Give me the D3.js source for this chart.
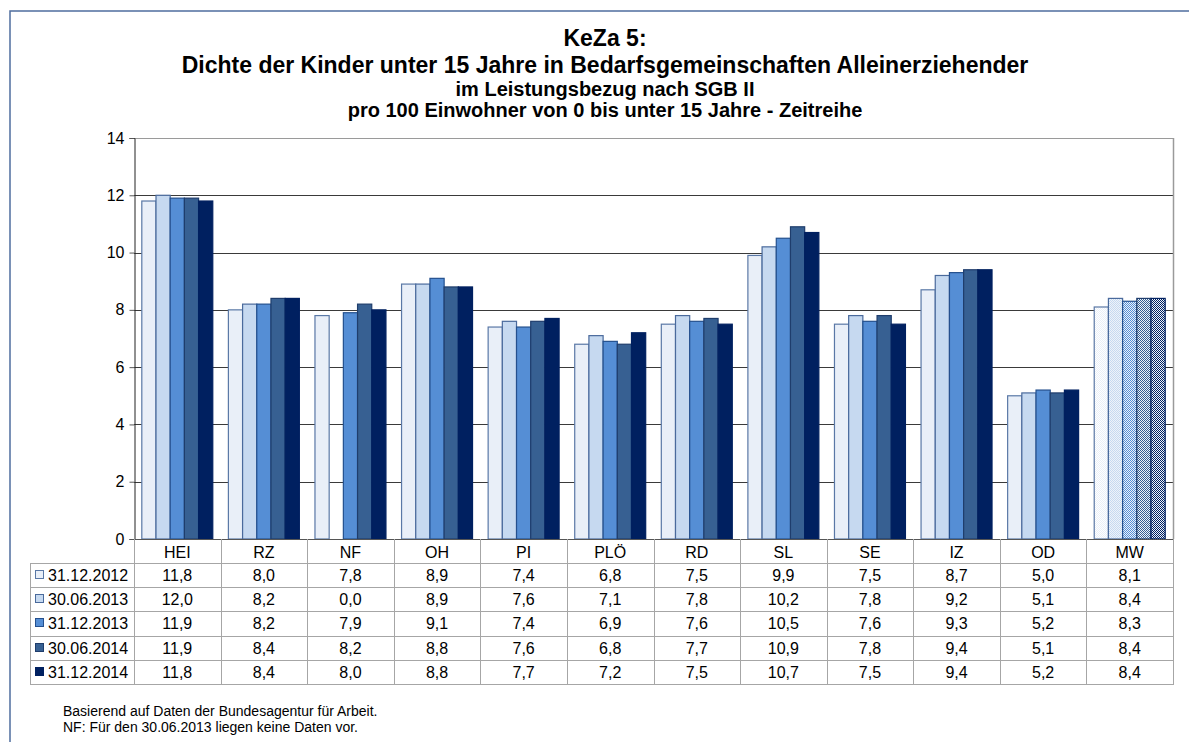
<!DOCTYPE html>
<html lang="de">
<head>
<meta charset="utf-8">
<title>KeZa 5</title>
<style>
  body { margin: 0; background: #fff; }
  svg { display: block; font-family: "Liberation Sans", Arial, sans-serif; }
</style>
</head>
<body>
<div id="chart"></div>
<script src="https://cdn.jsdelivr.net/npm/d3@7"></script>
<script>
// Data
var categories = ["HEI", "RZ", "NF", "OH", "PI", "PLÖ", "RD", "SL", "SE", "IZ", "OD", "MW"];
var seriesNames = ["31.12.2012", "30.06.2013", "31.12.2013", "30.06.2014", "31.12.2014"];
var values2012_12 = [11.8, 8.0, 7.8, 8.9, 7.4, 6.8, 7.5, 9.9, 7.5, 8.7, 5.0, 8.1];
var values2013_06 = [12.0, 8.2, 0.0, 8.9, 7.6, 7.1, 7.8, 10.2, 7.8, 9.2, 5.1, 8.4];
var values2013_12 = [11.9, 8.2, 7.9, 9.1, 7.4, 6.9, 7.6, 10.5, 7.6, 9.3, 5.2, 8.3];
var values2014_06 = [11.9, 8.4, 8.2, 8.8, 7.6, 6.8, 7.7, 10.9, 7.8, 9.4, 5.1, 8.4];
var values2014_12 = [11.8, 8.4, 8.0, 8.8, 7.7, 7.2, 7.5, 10.7, 7.5, 9.4, 5.2, 8.4];
var yTicks = [0, 2, 4, 6, 8, 10, 12, 14];
var titleLines = ["KeZa 5:",
    "Dichte der Kinder unter 15 Jahre in Bedarfsgemeinschaften Alleinerziehender",
    "im Leistungsbezug nach SGB II",
    "pro 100 Einwohner von 0 bis unter 15 Jahre - Zeitreihe"];
var notes = ["Basierend auf Daten der Bundesagentur für Arbeit.",
    "NF: Für den 30.06.2013 liegen keine Daten vor."];

var seriesValues = [values2012_12, values2013_06, values2013_12, values2014_06, values2014_12];
var fills = ["#e9eff8", "#c6d9f0", "#558ed5", "#376092", "#002060"];
var strokes = ["#5a78a6", "#4a6a9c", "#24508e", "#1f3d6c", "#002060"];

var W = 1189, H = 742;
var plot = {left: 134, right: 1173, top: 138, bottom: 539};
var tableLeft = 30, rowH = 24.2, headH = 24;

var svg = d3.select("#chart").append("svg")
    .attr("width", W)
    .attr("height", H);

// Checker patterns for the MW (average) column
var defs = svg.append("defs");
fills.forEach(function(c, i) {
    var p = defs.append("pattern")
        .attr("id", "pat" + i)
        .attr("width", 2).attr("height", 2)
        .attr("patternUnits", "userSpaceOnUse");
    p.append("rect").attr("width", 2).attr("height", 2).attr("fill", i == 0 ? "#ffffff" : "#eef3fa");
    p.append("rect").attr("x", 0).attr("y", 0).attr("width", 1).attr("height", 1).attr("fill", c);
    p.append("rect").attr("x", 1).attr("y", 1).attr("width", 1).attr("height", 1).attr("fill", c);
});

// Outer frame
svg.append("rect")
    .attr("x", 10).attr("y", 11)
    .attr("width", W + 20).attr("height", H + 20)
    .attr("fill", "none")
    .attr("stroke", "#4f6d9e")
    .attr("stroke-width", 1.5);

// Title
var titleSizes = [23, 23, 20, 20];
var titleY = [46, 73, 96, 117];
titleLines.forEach(function(t, i) {
    svg.append("text")
        .attr("x", 605)
        .attr("y", titleY[i])
        .attr("text-anchor", "middle")
        .style("font-size", titleSizes[i] + "px")
        .style("font-weight", "bold")
        .text(t);
});

// Scales
var x = d3.scaleBand().domain(categories).range([plot.left, plot.right]).padding(0);
var xs = d3.scaleBand().domain(d3.range(seriesNames.length))
    .range([0, x.bandwidth()])
    .paddingInner(0)
    .paddingOuter(0.55);
var y = d3.scaleLinear().domain([0, 14]).range([plot.bottom, plot.top]);

// Gridlines
svg.append("g")
    .selectAll("line")
    .data(yTicks.filter(function(d) { return d > 0; }))
    .enter().append("line")
    .attr("x1", plot.left).attr("x2", plot.right)
    .attr("y1", function(d) { return Math.round(y(d)) + 0.5; })
    .attr("y2", function(d) { return Math.round(y(d)) + 0.5; })
    .attr("stroke", function(d) { return d == 14 ? "#9a9a9a" : "#3a3a3a"; })
    .attr("stroke-width", 1);

// Right border of the plot
svg.append("line")
    .attr("x1", plot.right + 0.5).attr("x2", plot.right + 0.5)
    .attr("y1", plot.top).attr("y2", plot.bottom)
    .attr("stroke", "#9a9a9a").attr("stroke-width", 1.5);

// Bars
var groups = svg.append("g")
    .selectAll("g")
    .data(seriesValues)
    .enter().append("g");

groups.selectAll("rect")
    .data(function(d, s) {
        return d.map(function(v, i) { return {s: s, c: categories[i], v: v}; });
    })
    .enter().append("rect")
    .filter(function(d) { return d.v > 0; })
    .attr("x", function(d) { return x(d.c) + xs(d.s); })
    .attr("y", function(d) { return y(d.v); })
    .attr("width", xs.bandwidth())
    .attr("height", function(d) { return y(0) - y(d.v); })
    .attr("fill", function(d) { return d.c == "MW" ? "url(#pat" + d.s + ")" : fills[d.s]; })
    .attr("stroke", function(d) { return strokes[d.s]; })
    .attr("stroke-width", 1.2);

// Y axis
var yAxis = d3.axisLeft(y).tickValues(yTicks).tickSize(5).tickPadding(5).tickFormat(d3.format("d"));
var gy = svg.append("g")
    .attr("transform", "translate(" + (plot.left + 0.5) + ",0)")
    .call(yAxis);
gy.select(".domain").attr("stroke", "#222");
gy.selectAll(".tick line").attr("stroke", "#555");
gy.selectAll("text").style("font-size", "16px").attr("fill", "#000");

// X axis line
svg.append("line")
    .attr("x1", plot.left).attr("x2", plot.right + 1)
    .attr("y1", plot.bottom + 0.5).attr("y2", plot.bottom + 0.5)
    .attr("stroke", "#555");

// Data table
var fmt = function(v) { return v.toFixed(1).replace(".", ","); };
var tableBottom = plot.bottom + headH + rowH * seriesNames.length;
var table = svg.append("g").style("font-size", "16px");

// vertical lines between categories
table.selectAll("line.v")
    .data(categories.map(function(c) { return x(c); }).concat([plot.right]))
    .enter().append("line")
    .attr("x1", function(d) { return Math.round(d) + 0.5; })
    .attr("x2", function(d) { return Math.round(d) + 0.5; })
    .attr("y1", plot.bottom)
    .attr("y2", tableBottom)
    .attr("stroke", "#a6a6a6");

// horizontal lines
table.selectAll("line.h")
    .data(d3.range(seriesNames.length + 1))
    .enter().append("line")
    .attr("x1", tableLeft)
    .attr("x2", plot.right + 1)
    .attr("y1", function(i) { return Math.round(plot.bottom + headH + rowH * i) + 0.5; })
    .attr("y2", function(i) { return Math.round(plot.bottom + headH + rowH * i) + 0.5; })
    .attr("stroke", "#a6a6a6");

table.append("line")
    .attr("x1", tableLeft + 0.5).attr("x2", tableLeft + 0.5)
    .attr("y1", plot.bottom + headH).attr("y2", tableBottom)
    .attr("stroke", "#a6a6a6");

// category headers
table.selectAll("text.cat")
    .data(categories)
    .enter().append("text")
    .attr("x", function(c) { return x(c) + x.bandwidth() / 2; })
    .attr("y", plot.bottom + 19)
    .attr("text-anchor", "middle")
    .text(function(c) { return c; });

// rows
seriesNames.forEach(function(name, s) {
    var rowY = plot.bottom + headH + rowH * s;
    table.append("rect")
        .attr("x", 35.5).attr("y", Math.round(rowY) + 7.5)
        .attr("width", 8).attr("height", 8)
        .attr("fill", fills[s])
        .attr("stroke", strokes[s]);
    table.append("text")
        .attr("x", 48)
        .attr("y", rowY + 18)
        .text(name);
    table.selectAll("text.r" + s)
        .data(seriesValues[s])
        .enter().append("text")
        .attr("x", function(v, i) { return x(categories[i]) + x.bandwidth() / 2; })
        .attr("y", rowY + 18)
        .attr("text-anchor", "middle")
        .text(fmt);
});

// Footnotes
notes.forEach(function(t, i) {
    svg.append("text")
        .attr("x", 63)
        .attr("y", 716 + i * 15.8)
        .style("font-size", "14px")
        .text(t);
});
</script>
</body>
</html>
